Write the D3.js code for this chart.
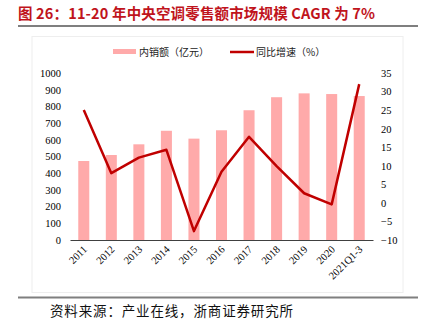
<!DOCTYPE html>
<html><head><meta charset="utf-8">
<script src="https://cdn.jsdelivr.net/npm/d3@7"></script>
<style>body{margin:0;background:#fff;}svg{display:block;}</style>
</head><body>
<script>
const categories = ["2011","2012","2013","2014","2015","2016","2017","2018","2019","2020","2021Q1-3"];
const salesValues = [473, 509, 573, 654, 607, 657, 777, 855, 878, 874, 862];
const growthValues = [25, 8, 12.2, 14.3, -7.6, 8.4, 17.8, 9.9, 2.6, -0.4, 32];
const leftTicks = [0,100,200,300,400,500,600,700,800,900,1000];
const rightTicks = [-10,-5,0,5,10,15,20,25,30,35];
const titleText = "图 26：11-20 年中央空调零售额市场规模 CAGR 为 7%";
const legendLabels = ["内销额（亿元）", "同比增速（%）"];
const sourceText = "资料来源：产业在线，浙商证券研究所";

const W = 427, H = 331;
const svg = d3.select("body").append("svg").attr("width", W).attr("height", H);
const serif = "'Liberation Serif','Times New Roman',serif";
const cjk = "'Noto Sans CJK SC','Noto Sans',sans-serif";

// title
svg.append("text").attr("x", 18).attr("y", 19).attr("fill", "#c0141c")
  .attr("font-family", cjk).attr("font-weight", "bold").attr("font-size", 14.5)
  .attr("textLength", 357).attr("lengthAdjust", "spacing")
  .text(titleText);
svg.append("line").attr("x1", 18).attr("x2", 418).attr("y1", 26).attr("y2", 26)
  .attr("stroke", "#7f7f7f").attr("stroke-width", 2);

// frame
svg.append("rect").attr("x", 32).attr("y", 36.5).attr("width", 371).attr("height", 256)
  .attr("fill", "none").attr("stroke", "#eeeeee").attr("stroke-width", 1);

const x = d3.scaleBand().domain(categories).range([70, 373]).paddingInner(0.6).paddingOuter(0.3);
const yL = d3.scaleLinear().domain([0, 1000]).range([240, 73]);
const yR = d3.scaleLinear().domain([-10, 35]).range([240, 73]);

// bars
svg.append("g").selectAll("rect").data(categories).join("rect")
  .attr("x", d => x(d)).attr("width", x.bandwidth())
  .attr("y", (d, i) => yL(salesValues[i]))
  .attr("height", (d, i) => yL(0) - yL(salesValues[i]))
  .attr("fill", "#ffaaaa");

// line
const line = d3.line().x((d, i) => x(categories[i]) + x.bandwidth() / 2).y(d => yR(d));
svg.append("path").datum(growthValues).attr("d", line)
  .attr("fill", "none").attr("stroke", "#c00000").attr("stroke-width", 2.5)
  .attr("stroke-linejoin", "round");

// axes
const leftAxis = d3.axisLeft(yL).tickValues(leftTicks).tickFormat(d3.format("d")).tickSize(0).tickPadding(0);
const gL = svg.append("g").attr("transform", "translate(61,0)").call(leftAxis);
gL.select(".domain").remove();
gL.selectAll("text").attr("font-family", serif).attr("font-size", 10.5).attr("fill", "#000");

const rightAxis = d3.axisRight(yR).tickValues(rightTicks).tickFormat(d3.format("d")).tickSize(0).tickPadding(0);
const gR = svg.append("g").attr("transform", "translate(381,0)").call(rightAxis);
gR.select(".domain").remove();
gR.selectAll("text").attr("font-family", serif).attr("font-size", 10.5).attr("fill", "#000");

const bottomAxis = d3.axisBottom(x).tickSize(0).tickPadding(0);
const gB = svg.append("g").attr("transform", "translate(0,240)").call(bottomAxis);
gB.select(".domain").attr("stroke", "#404040").attr("stroke-width", 1);
gB.selectAll("text").attr("font-family", serif).attr("font-size", 10.5).attr("fill", "#000")
  .attr("text-anchor", "end").attr("dy", 0).attr("y", 0)
  .attr("transform", "translate(4,10) rotate(-45)");

// legend
const lg = svg.append("g");
lg.append("rect").attr("x", 113).attr("y", 49).attr("width", 23).attr("height", 5).attr("fill", "#ffaaaa");
lg.append("text").attr("x", 139).attr("y", 55.5).attr("font-family", cjk).attr("font-size", 10)
  .attr("fill", "#222").text(legendLabels[0]);
lg.append("line").attr("x1", 230).attr("x2", 254).attr("y1", 52).attr("y2", 52)
  .attr("stroke", "#c00000").attr("stroke-width", 2.5);
lg.append("text").attr("x", 256).attr("y", 55.5).attr("font-family", cjk).attr("font-size", 10)
  .attr("fill", "#222").text(legendLabels[1]);

// bottom rule and source
svg.append("line").attr("x1", 18).attr("x2", 418).attr("y1", 297.5).attr("y2", 297.5)
  .attr("stroke", "#7f7f7f").attr("stroke-width", 2);
svg.append("text").attr("x", 50).attr("y", 316).attr("font-family", cjk).attr("font-size", 13.5)
  .attr("textLength", 243).attr("lengthAdjust", "spacing")
  .attr("fill", "#111").text(sourceText);
</script>
</body></html>
